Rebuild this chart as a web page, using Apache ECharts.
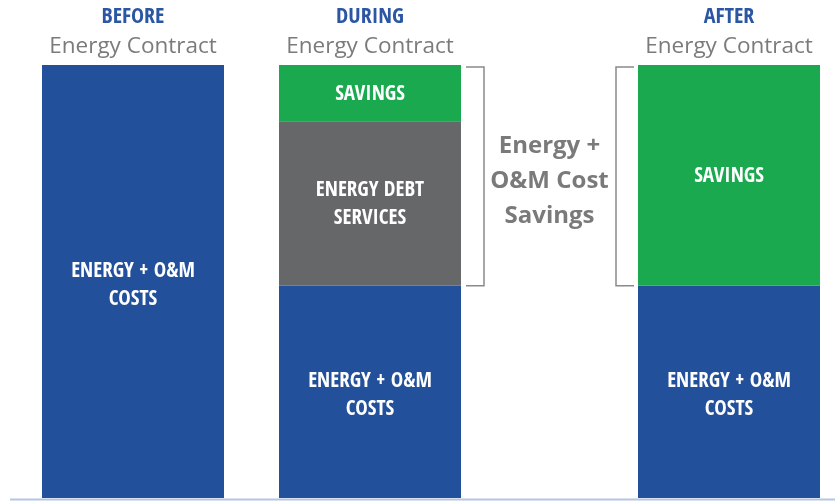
<!DOCTYPE html>
<html>
<head>
<meta charset="utf-8">
<script src="https://cdn.jsdelivr.net/npm/echarts@6/dist/echarts.min.js"></script>
<style>
html,body{margin:0;padding:0;background:#fff;}
#c{width:835px;height:503px;}
</style>
</head>
<body>
<div id="c"></div>
<script>
// ---- data ----
const stages = ['BEFORE', 'DURING', 'AFTER'];
const subtitle = 'Energy Contract';
const energyOM = [100, 49, 49];
const debtService = [0, 38, 0];
const savings = [0, 13, 51];
const componentNames = ['ENERGY + O&M\nCOSTS', 'ENERGY DEBT\nSERVICES', 'SAVINGS'];
const bracketText = 'Energy +\nO&M Cost\nSavings';

// ---- layout ----
const gridLefts = [42, 279, 638];
const barW = 182;
const colors = ['#22509a', '#656769', '#1aa94e'];
const condensed = '"Open Sans Condensed", "Roboto Condensed", sans-serif';

const chart = echarts.init(document.getElementById('c'), null, {renderer: 'canvas'});

const grids = [], xAxes = [], yAxes = [], series = [];
const comps = [energyOM, debtService, savings];
stages.forEach((st, i) => {
  grids.push({left: gridLefts[i], width: barW, top: 65, bottom: 5, containLabel: false});
  xAxes.push({
    type: 'category', gridIndex: i, data: [st], position: 'top',
    axisLine: {show: false}, axisTick: {show: false},
    axisLabel: {
      margin: 6,
      formatter: v => '{h|' + v + '}\n{s|' + subtitle + '}',
      rich: {
        h: {fontFamily: condensed, fontWeight: 'bold', fontSize: 22, color: '#2a56a3', lineHeight: 33},
        s: {fontFamily: '"Open Sans", sans-serif', fontSize: 22.5, color: '#7b7b7b', lineHeight: 25}
      }
    }
  });
  yAxes.push({type: 'value', gridIndex: i, min: 0, max: 100, show: false, splitLine: {show: false}});
  comps.forEach((arr, k) => {
    series.push({
      type: 'bar', name: componentNames[k], xAxisIndex: i, yAxisIndex: i,
      stack: 'st' + i, barWidth: '100%',
      data: [arr[i]],
      itemStyle: {color: colors[k]},
      label: {
        show: arr[i] > 0, position: 'inside',
        formatter: componentNames[k],
        fontFamily: condensed, fontWeight: 'bold', fontSize: 21,
        color: '#ffffff', lineHeight: 28,
        offset: k === 0 ? [0, 4] : [0, 1]
      },
      silent: true, animation: false
    });
  });
});

chart.setOption({
  animation: false,
  grid: grids, xAxis: xAxes, yAxis: yAxes, series: series
});

// brackets placed from data values via axis conversion
function px(i, val) { return chart.convertToPixel({xAxisIndex: i, yAxisIndex: i}, [0, val]); }
const dTop = px(1, energyOM[1] + debtService[1] + savings[1]);
const dBot = px(1, energyOM[1]);
const aTop = px(2, energyOM[2] + savings[2]);
const aBot = px(2, energyOM[2]);
const dRight = gridLefts[1] + barW;
const aLeft = gridLefts[2];
const bStyle = {stroke: '#8a8a8a', lineWidth: 1.5, fill: null};
chart.setOption({
  graphic: [
    {type: 'polyline', silent: true, shape: {points: [[dRight + 5, dTop[1] + 2], [dRight + 23, dTop[1] + 2], [dRight + 23, dBot[1]], [dRight + 5, dBot[1]]]}, style: bStyle},
    {type: 'polyline', silent: true, shape: {points: [[aLeft - 4, aTop[1] + 2], [aLeft - 22, aTop[1] + 2], [aLeft - 22, aBot[1]], [aLeft - 4, aBot[1]]]}, style: bStyle},
    {type: 'text', silent: true, x: (dRight + aLeft) / 2, y: (dTop[1] + dBot[1]) / 2 + 6,
      style: {text: bracketText, fill: '#7a7a7a', font: 'bold 24px "Open Sans", sans-serif', align: 'center', verticalAlign: 'middle', lineHeight: 35}},
    {type: 'line', silent: true, shape: {x1: 10, y1: 499.5, x2: 835, y2: 499.5}, style: {stroke: '#b3c6e4', lineWidth: 2}}
  ]
});
</script>
</body>
</html>
